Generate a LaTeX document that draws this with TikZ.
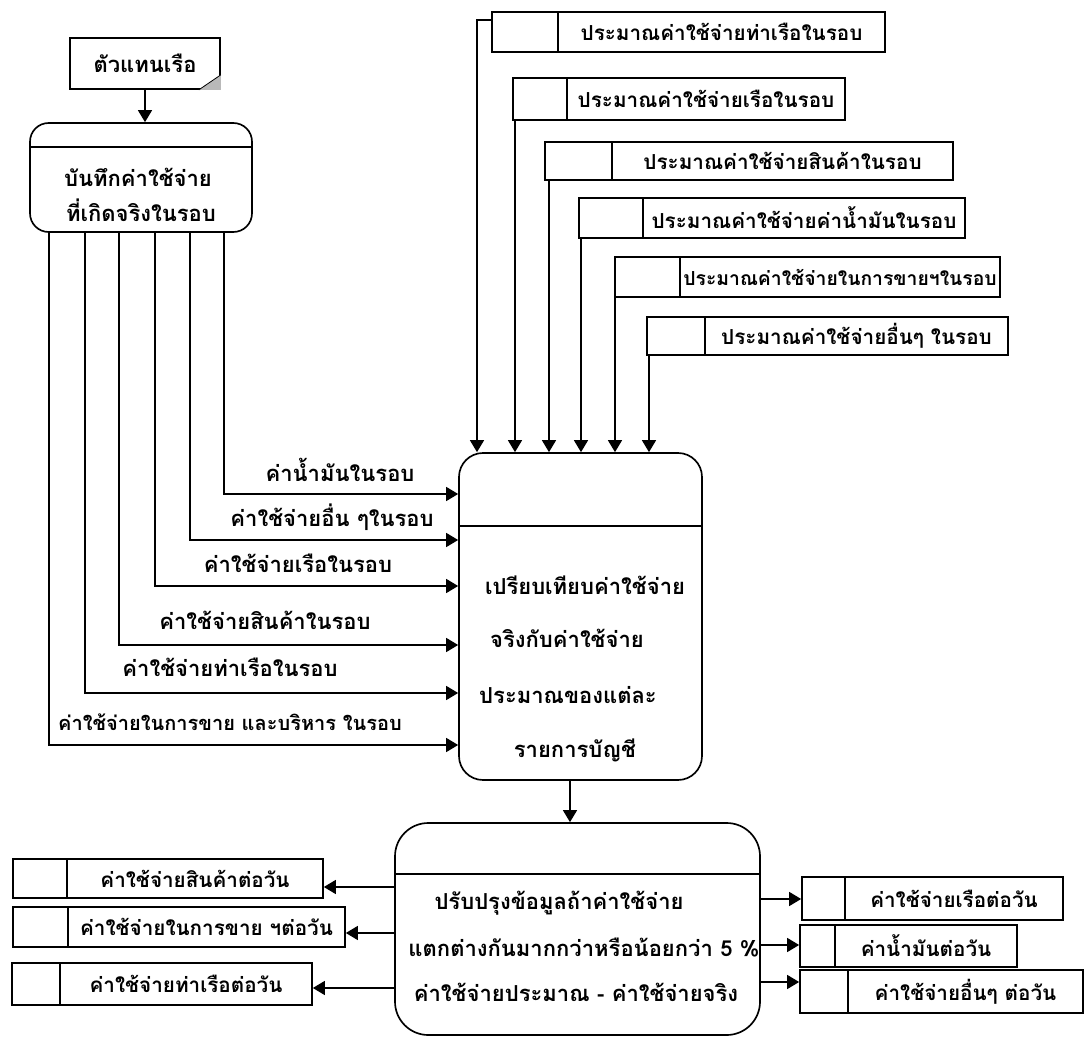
\documentclass[tikz,border=0pt]{standalone}
\usepackage{fontspec}
\newfontfamily\thai[Script=Thai]{Loma}
\usetikzlibrary{arrows.meta,fit,calc}
\newcommand\dstore[8][]{%
  \node[box, fit={(#3,#4)(#5,#6)}] (#2) {};
  \draw[boxline] (#7,#4) -- (#7,#6);
  \node[storelbl,#1] (#2t) at ({(#7+#5)/2},{(#4+#6)/2}) {#8};
}
\begin{document}
\begin{tikzpicture}[x=0.75pt,y=-0.75pt,
  box/.style={draw, line width=1.25pt, inner sep=0pt},
  boxline/.style={line width=1.25pt},
  lbl/.style={font=\thai\bfseries\fontsize{16.5}{18}\selectfont, inner sep=1pt},
  storelbl/.style={font=\thai\bfseries\fontsize{15.5}{17}\selectfont, inner sep=1pt},
  flow/.style={line width=1.05pt, -{Triangle[length=9pt,width=10.5pt]}},
]
\path[fill=white] (0,0) rectangle (1092,1052);
\useasboundingbox (0,0) rectangle (1092,1052);

% external entity
\node[box, fit={(70,38)(220,89)}] (ent) {};
\node[lbl] (entT) at (ent.center) {ตัวแทนเรือ};
\fill[gray!55] ($(ent.south east)+(-22,0)$) -- (ent.south east) -- ($(ent.south east)+(0,-15)$) -- cycle;
\draw[line width=0.6pt] ($(ent.south east)+(-22,0)$) -- ($(ent.south east)+(0,-15)$);

% process 1
\node[box, rounded corners=14pt, fit={(30,123)(252,232)}] (p1) {};
\draw[boxline] ($(p1.north west)+(0,25)$) -- ($(p1.north east)+(0,25)$);
\node[lbl] (p1a) at (138,177) {บันทึกค่าใช้จ่าย};
\node[lbl] (p1b) at (141,210) {ที่เกิดจริงในรอบ};
\draw[flow] (ent.south) -- (ent.south |- p1.north);

% process 2
\node[box, rounded corners=18pt, fit={(459,453)(702,780)}] (p2) {};
\draw[boxline] ($(p2.north west)+(0,74)$) -- ($(p2.north east)+(0,74)$);
\node[lbl] (p2a) at (585,585) {เปรียบเทียบค่าใช้จ่าย};
\node[lbl] (p2b) at (567,638) {จริงกับค่าใช้จ่าย};
\node[lbl] (p2c) at (568,695) {ประมาณของแต่ละ};
\node[lbl] (p2d) at (575,750) {รายการบัญชี};

% process 3
\node[box, rounded corners=25pt, fit={(395,823)(760,1035)}] (p3) {};
\draw[boxline] ($(p3.north west)+(0,52)$) -- ($(p3.north east)+(0,52)$);
\node[lbl] (p3a) at (559,903) {ปรับปรุงข้อมูลถ้าค่าใช้จ่าย};
\node[lbl] (p3b) at (584,948) {แตกต่างกันมากกว่าหรือน้อยกว่า 5 \%};
\node[lbl] (p3c) at (576,992) {ค่าใช้จ่ายประมาณ - ค่าใช้จ่ายจริง};
\coordinate (x23) at (570,0);
\draw[flow] (p2.south -| x23) -- (p3.north -| x23);

% top data stores
\dstore{SA}{492}{12}{885}{52}{558}{ประมาณค่าใช้จ่ายท่าเรือในรอบ}
\dstore{SB}{513}{78}{845}{120}{567}{ประมาณค่าใช้จ่ายเรือในรอบ}
\dstore{SC}{545}{142}{953}{180}{612}{ประมาณค่าใช้จ่ายสินค้าในรอบ}
\dstore{SD}{579}{198}{965}{238}{643}{ประมาณค่าใช้จ่ายค่าน้ำมันในรอบ}
\dstore[font=\thai\bfseries\fontsize{14.5}{16}\selectfont]{SE}{615}{257}{1000}{297}{680}{ประมาณค่าใช้จ่ายในการขายฯในรอบ}
\dstore{SF}{647}{317}{1008}{355}{705}{ประมาณค่าใช้จ่ายอื่นๆ ในรอบ}

\coordinate (ya) at (0,20);
\coordinate (xa) at (477,0);
\coordinate (xb) at (515,0);
\coordinate (xc) at (549,0);
\coordinate (xd) at (581,0);
\coordinate (xe) at (615,0);
\coordinate (xf) at (649,0);
\draw[flow] (SA.west |- ya) -| (p2.north -| xa);
\draw[flow] (SB.south -| xb) -- (p2.north -| xb);
\draw[flow] (SC.south -| xc) -- (p2.north -| xc);
\draw[flow] (SD.south -| xd) -- (p2.north -| xd);
\draw[flow] (SE.south -| xe) -- (p2.north -| xe);
\draw[flow] (SF.south -| xf) -- (p2.north -| xf);

% flows from process 1 to process 2
\coordinate (c1) at (224,0); \coordinate (r1) at (0,494);
\coordinate (c2) at (190,0); \coordinate (r2) at (0,540);
\coordinate (c3) at (155,0); \coordinate (r3) at (0,586);
\coordinate (c4) at (119,0); \coordinate (r4) at (0,645);
\coordinate (c5) at (85,0);  \coordinate (r5) at (0,693);
\coordinate (c6) at (49,0);  \coordinate (r6) at (0,745);
\draw[flow] (p1.south -| c1) |- (p2.west |- r1);
\draw[flow] (p1.south -| c2) |- (p2.west |- r2);
\draw[flow] (p1.south -| c3) |- (p2.west |- r3);
\draw[flow] (p1.south -| c4) |- (p2.west |- r4);
\draw[flow] (p1.south -| c5) |- (p2.west |- r5);
\draw[flow] (p1.south -| c6) |- (p2.west |- r6);
\node[lbl] (f1) at (340,470) {ค่าน้ำมันในรอบ};
\node[lbl] (f2) at (332,517) {ค่าใช้จ่ายอื่น ๆในรอบ};
\node[lbl] (f3) at (298,563) {ค่าใช้จ่ายเรือในรอบ};
\node[lbl] (f4) at (265,620) {ค่าใช้จ่ายสินค้าในรอบ};
\node[lbl] (f5) at (230,667) {ค่าใช้จ่ายท่าเรือในรอบ};
\node[lbl, font=\thai\bfseries\fontsize{15}{17}\selectfont] (f6) at (230,722) {ค่าใช้จ่ายในการขาย และบริหาร ในรอบ};

% bottom data stores
\dstore{LA}{13}{859}{323}{898}{67}{ค่าใช้จ่ายสินค้าต่อวัน}
\dstore{LB}{13}{907}{345}{947}{68}{ค่าใช้จ่ายในการขาย ฯต่อวัน}
\dstore{LC}{12}{963}{312}{1005}{60}{ค่าใช้จ่ายท่าเรือต่อวัน}
\dstore{RA}{802}{877}{1063}{920}{845}{ค่าใช้จ่ายเรือต่อวัน}
\dstore{RB}{800}{925}{1017}{967}{835}{ค่าน้ำมันต่อวัน}
\dstore{RC}{800}{970}{1083}{1013}{848}{ค่าใช้จ่ายอื่นๆ ต่อวัน}

\coordinate (q1) at (0,887);
\coordinate (q2) at (0,933);
\coordinate (q3) at (0,988);
\coordinate (s1) at (0,899);
\coordinate (s2) at (0,945);
\coordinate (s3) at (0,982);
\draw[flow] (p3.west |- q1) -- (LA.east |- q1);
\draw[flow] (p3.west |- q2) -- (LB.east |- q2);
\draw[flow] (p3.west |- q3) -- (LC.east |- q3);
\draw[flow] (p3.east |- s1) -- (RA.west |- s1);
\draw[flow] (p3.east |- s2) -- (RB.west |- s2);
\draw[flow] (p3.east |- s3) -- (RC.west |- s3);
\end{tikzpicture}
\end{document}
